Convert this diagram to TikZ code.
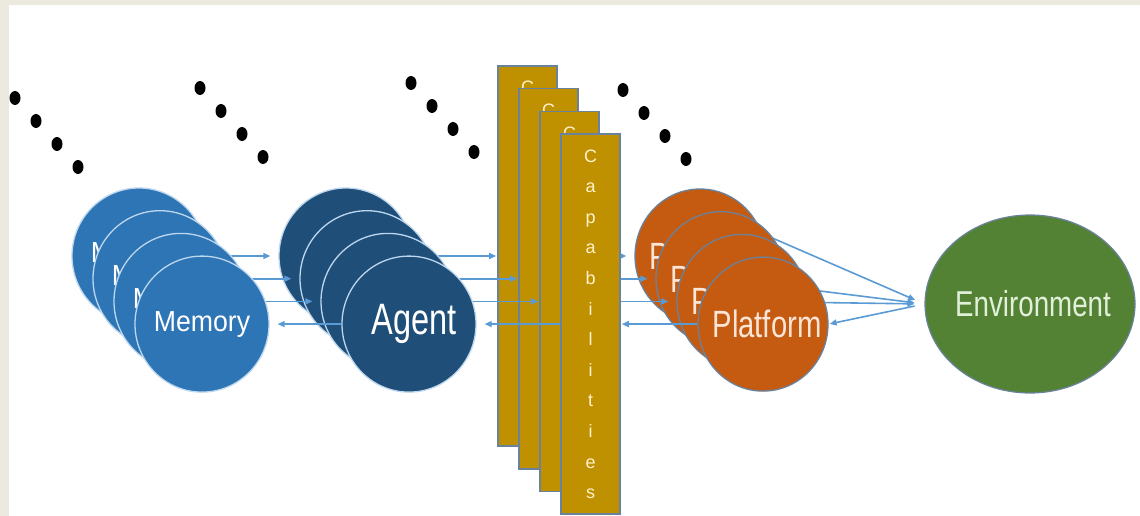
\documentclass[tikz,border=0pt]{standalone}
\usepackage{fontspec}
\setmainfont{Liberation Sans}
\usetikzlibrary{arrows.meta,shapes.geometric}
\definecolor{frame}{HTML}{ECE9DF}
\definecolor{memfill}{HTML}{2E75B6}
\definecolor{agentfill}{HTML}{1F4E79}
\definecolor{capfill}{HTML}{BF9000}
\definecolor{platfill}{HTML}{C55A11}
\definecolor{envfill}{HTML}{548235}
\definecolor{rim}{HTML}{BDD7EE}
\definecolor{edge}{HTML}{6A829C}
\definecolor{wire}{HTML}{5B9BD5}
\definecolor{captext}{HTML}{FFF2CC}
\definecolor{plattext}{HTML}{FBE5D6}
\definecolor{envtext}{HTML}{E2F0D9}
\newcommand{\lbl}[4][0pt]{\makebox[0pt]{\hspace*{#1}\fontsize{#3}{#3}\selectfont\scalebox{#2}[1]{#4}}}
\tikzset{
  orb/.style   = {ellipse, minimum width=134pt, minimum height=136pt,
                  inner sep=0pt, line width=1.3pt},
  mem/.style   = {orb, draw=rim, fill=memfill, text=white},
  agt/.style   = {orb, draw=rim, fill=agentfill, text=white},
  plat/.style  = {orb, minimum width=130pt, minimum height=134pt,
                  draw=edge, fill=platfill, text=plattext},
  capbox/.style= {rectangle, minimum width=59pt, minimum height=380pt,
                  inner sep=0pt, draw=edge, fill=capfill, line width=1.6pt,
                  text=captext, align=center, font=\fontsize{18}{30.6}\selectfont},
  envorb/.style= {ellipse, minimum width=210pt, minimum height=178pt, inner sep=0pt,
                  draw=edge, fill=envfill, line width=1.2pt, text=envtext},
  link/.style  = {-{Triangle[length=7pt,width=6pt]}, draw=wire, line width=1.6pt,
                  shorten >=8pt},
}
\begin{document}
\begin{tikzpicture}[x=1pt,y=-1pt]
  \useasboundingbox (0,0) rectangle (1140,516);
  \fill[white] (0,0) rectangle (1140,516);
  \fill[frame] (0,0) rectangle (1140,5);
  \fill[frame] (0,0) rectangle (9,516);
  % trailing dots
  \foreach \x/\y in {15/98,200/88,411/83,623/90}{
    \foreach \k in {0,...,3}{
      \fill[black] (\x+21*\k,\y+23*\k) ellipse [x radius=5.5pt, y radius=7pt];}}
  \node[envorb] (env) at (1030,304) {\lbl[6pt]{0.77}{36}{Environment}};
  % stacked copies, back to front
  \foreach \i in {0,...,3}{
    \node[mem]    (m\i) at (139+21*\i,256+22.7*\i) {\lbl{0.92}{29}{Memory}};
    \node[agt]    (a\i) at (346+21*\i,256+22.7*\i) {\lbl[10pt]{0.74}{44}{Agent}};
    \node[capbox] (c\i) at (527.5+21*\i,256+22.7*\i) {C\\a\\p\\a\\b\\i\\l\\i\\t\\i\\e\\s};
    \node[plat]   (p\i) at (700+21*\i,256+22.7*\i) {\lbl[8pt]{0.77}{38}{Platform}};
    \ifnum\i<3
      \draw[link] (m\i) -- (a\i);
      \draw[link,shorten >=1pt] (a\i) -- (c\i);
      \draw[link] (c\i) -- (p\i);
    \else
      \draw[link] (a\i) -- (m\i);
      \draw[link] (c\i) -- (a\i);
      \draw[link,shorten >=1pt] (p\i) -- (c\i);
    \fi
    \ifcase\i
      \draw[link,shorten >=10pt] (p0.20) -- (env.west);
    \or
      \draw[link,shorten >=10pt] (p1) -- (env.west);
    \or
      \draw[link,shorten >=10pt] (p2) -- (env.west);
    \else
      \draw[link,shorten >=1pt,shorten <=10pt] (env.west) -- (p3.east);
    \fi
  }
\end{tikzpicture}
\end{document}
